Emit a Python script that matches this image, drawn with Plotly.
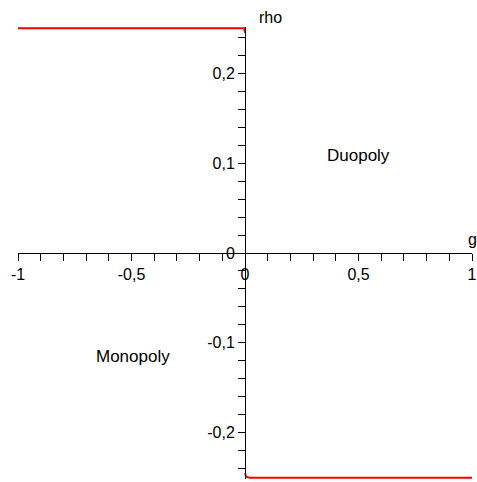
import plotly.graph_objects as go

# Data
g_left = [-1.0, -0.004, 0.0]
rho_left = [0.25, 0.25, 0.245]
g_right = [0.0, 0.005, 0.02, 1.0]
rho_right = [-0.245, -0.249, -0.25, -0.25]

x_tickvals = [-1, -0.5, 0, 0.5, 1]
x_ticktext = ["-1", "-0,5", "0", "0,5", "1"]
y_tickvals = [-0.2, -0.1, 0, 0.1, 0.2]
y_ticktext = ["-0,2", "-0,1", "0", "0,1", "0,2"]

region_labels = ["Duopoly", "Monopoly"]
region_g = [0.50, -0.495]
region_rho = [0.109, -0.115]

FONT = "Liberation Sans, Arial, Helvetica, sans-serif"

fig = go.Figure()
fig.add_trace(go.Scatter(
    x=g_left + [None] + g_right,
    y=rho_left + [None] + rho_right,
    mode="lines",
    line=dict(color="#ff0000", width=2),
    connectgaps=False,
    hoverinfo="skip",
    showlegend=False,
))

for txt, gx, ry in zip(region_labels, region_g, region_rho):
    fig.add_annotation(x=gx, y=ry, text=txt, showarrow=False,
                       xanchor="center", yanchor="middle",
                       font=dict(family=FONT, size=17, color="black"))

fig.add_annotation(x=0.053, y=1.02, xref="x", yref="paper", text="rho",
                   showarrow=False, xanchor="left", yanchor="middle",
                   font=dict(family=FONT, size=16, color="black"))
fig.add_annotation(x=1.0, y=0.0155, text="g", showarrow=False,
                   xanchor="center", yanchor="middle",
                   font=dict(family=FONT, size=16, color="black"))

fig.update_layout(
    width=477, height=482,
    margin=dict(l=18, r=5, t=27, b=3, pad=0),
    paper_bgcolor="white", plot_bgcolor="white",
    font=dict(family=FONT, size=16, color="black"),
    xaxis=dict(
        range=[-1, 1], anchor="free", position=0.5,
        showline=True, linecolor="black", linewidth=1,
        showgrid=False, zeroline=False,
        tickmode="array", tickvals=x_tickvals, ticktext=x_ticktext,
        ticks="outside", ticklen=7, tickcolor="black", tickwidth=1,
        minor=dict(dtick=0.1, tick0=0, ticks="outside", ticklen=7,
                   tickcolor="black", tickwidth=1, showgrid=False),
        automargin=False,
        tickfont=dict(family=FONT, size=16, color="black"),
    ),
    yaxis=dict(
        range=[-0.2515, 0.2515], anchor="free", position=0.5,
        showline=True, linecolor="black", linewidth=1,
        showgrid=False, zeroline=False,
        tickmode="array", tickvals=y_tickvals, ticktext=y_ticktext,
        ticks="outside", ticklen=7, tickcolor="black", tickwidth=1,
        minor=dict(dtick=0.02, tick0=0, ticks="outside", ticklen=7,
                   tickcolor="black", tickwidth=1, showgrid=False),
        automargin=False,
        tickfont=dict(family=FONT, size=16, color="black"),
    ),
)

fig.write_html("out.html",
               config={"displayModeBar": False},
               post_script="document.body.style.margin='0';document.body.style.padding='0';")
